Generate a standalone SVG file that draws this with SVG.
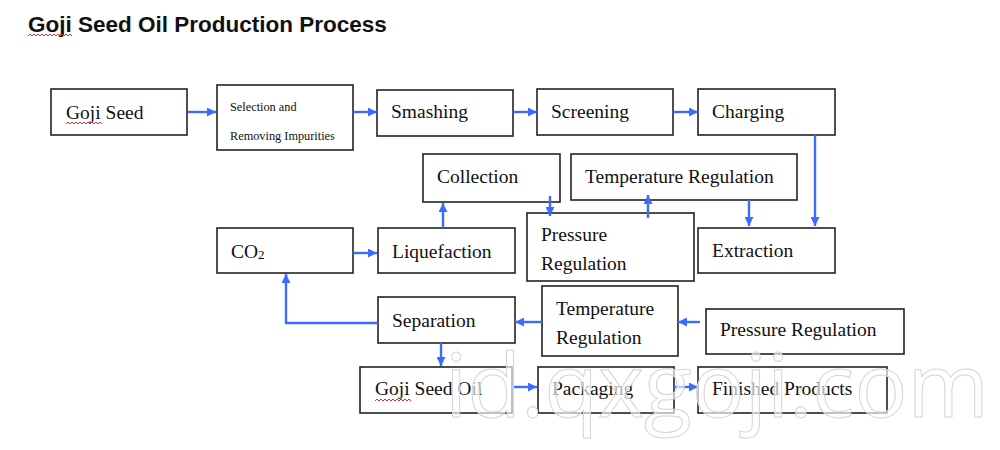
<svg xmlns="http://www.w3.org/2000/svg" width="1000" height="450" viewBox="0 0 1000 450">
<style>
.box{fill:#fff;stroke:#222;stroke-width:1.6}
.t{font-family:"Liberation Serif","Times New Roman",serif;font-size:19.5px;fill:#111}
.s{font-family:"Liberation Serif","Times New Roman",serif;font-size:12.3px;fill:#111}
.c{fill:none;stroke:#3d6bff;stroke-width:2.4}
.sq{fill:none;stroke:#e03030;stroke-width:1}
</style>
<defs>
<marker id="ah" viewBox="0 0 10 10" refX="10" refY="5" markerWidth="9" markerHeight="9" markerUnits="userSpaceOnUse" orient="auto">
<path d="M0,0 L10,5 L0,10 z" fill="#3d6bff"/>
</marker>
</defs>
<rect width="1000" height="450" fill="#fff"/>
<text x="28" y="32" font-family="Liberation Sans,Arial,sans-serif" font-weight="bold" font-size="22.5" fill="#111">Goji Seed Oil Production Process</text>
<path class="sq" d="M28,36 l2,-2 l2,2 l2,-2 l2,2 l2,-2 l2,2 l2,-2 l2,2 l2,-2 l2,2 l2,-2 l2,2 l2,-2 l2,2 l2,-2 l2,2 l2,-2 l2,2 l2,-2 l2,2 l2,-2 l2,2"/>

<g id="goji-seed"><rect class="box" x="51" y="89" width="136" height="46"/><text class="t" x="66" y="119">Goji Seed</text>
<path class="sq" d="M66,124 l2,-2 l2,2 l2,-2 l2,2 l2,-2 l2,2 l2,-2 l2,2 l2,-2 l2,2 l2,-2 l2,2 l2,-2 l2,2 l2,-2 l2,2 l2,-2 l2,2"/></g>
<g id="selection"><rect class="box" x="217" y="85" width="136" height="65"/><text class="s" x="230" y="111">Selection and</text><text class="s" x="230" y="140">Removing Impurities</text></g>
<g id="smashing"><rect class="box" x="377" y="90" width="136" height="46"/><text class="t" x="391" y="118">Smashing</text></g>
<g id="screening"><rect class="box" x="537" y="89" width="136" height="46"/><text class="t" x="551" y="118">Screening</text></g>
<g id="charging"><rect class="box" x="698" y="89" width="137" height="46"/><text class="t" x="712" y="118">Charging</text></g>
<g id="collection"><rect class="box" x="423" y="154" width="137" height="48"/><text class="t" x="437" y="183">Collection</text></g>
<g id="temp-reg-top"><rect class="box" x="571" y="154" width="226" height="46"/><text class="t" x="585" y="183">Temperature Regulation</text></g>
<g id="co2"><rect class="box" x="217" y="228" width="136" height="45"/><text class="t" x="231" y="258">CO<tspan font-size="13" dy="1">2</tspan></text></g>
<g id="liquefaction"><rect class="box" x="378" y="228" width="137" height="45"/><text class="t" x="392" y="258">Liquefaction</text></g>
<g id="pressure-reg-mid"><rect class="box" x="527" y="213" width="167" height="68"/><text class="t" x="541" y="241">Pressure</text><text class="t" x="541" y="270">Regulation</text></g>
<g id="extraction"><rect class="box" x="698" y="228" width="137" height="45"/><text class="t" x="712" y="257">Extraction</text></g>
<g id="separation"><rect class="box" x="378" y="297" width="137" height="46"/><text class="t" x="392" y="327">Separation</text></g>
<g id="temp-reg-low"><rect class="box" x="542" y="286" width="136" height="70"/><text class="t" x="556" y="315">Temperature</text><text class="t" x="556" y="344">Regulation</text></g>
<g id="pressure-reg-low"><rect class="box" x="706" y="309" width="198" height="45"/><text class="t" x="720" y="336">Pressure Regulation</text></g>
<g id="goji-oil"><rect class="box" x="360" y="367" width="152" height="46"/><text class="t" x="375" y="395">Goji Seed Oil</text>
<path class="sq" d="M375,401 l2,-2 l2,2 l2,-2 l2,2 l2,-2 l2,2 l2,-2 l2,2 l2,-2 l2,2 l2,-2 l2,2 l2,-2 l2,2 l2,-2 l2,2 l2,-2 l2,2"/></g>
<g id="packaging"><rect class="box" x="538" y="367" width="136" height="46"/><text class="t" x="552" y="395">Packaging</text></g>
<g id="finished"><rect class="box" x="698" y="367" width="189" height="46"/><text class="t" x="712" y="395">Finished Products</text></g>

<g id="connectors">
<path class="c" d="M188,112 H216" marker-end="url(#ah)"/>
<path class="c" d="M353,112 H377" marker-end="url(#ah)"/>
<path class="c" d="M513,112 H537" marker-end="url(#ah)"/>
<path class="c" d="M673,112 H698" marker-end="url(#ah)"/>
<path class="c" d="M815,135 V226" marker-end="url(#ah)"/>
<path class="c" d="M749,200 V226" marker-end="url(#ah)"/>
<path class="c" d="M648,218 V195" marker-end="url(#ah)"/>
<path class="c" d="M550,196 V216" marker-end="url(#ah)"/>
<path class="c" d="M443,228 V203" marker-end="url(#ah)"/>
<path class="c" d="M353,253 H377" marker-end="url(#ah)"/>
<path class="c" d="M378,323 H286 V274" marker-end="url(#ah)"/>
<path class="c" d="M542,322 H515" marker-end="url(#ah)"/>
<path class="c" d="M700,322 H678" marker-end="url(#ah)"/>
<path class="c" d="M441,343 V366" marker-end="url(#ah)"/>
<path class="c" d="M512,387 H537" marker-end="url(#ah)"/>
<path class="c" d="M674,387 H698" marker-end="url(#ah)"/>
</g>
<text x="445" y="417" font-family="Open Sans,sans-serif" font-weight="400" font-size="88" fill="#fff" fill-opacity="0.65" stroke="#d4d4d4" stroke-width="1">id.qxgoji.com</text>
</svg>
